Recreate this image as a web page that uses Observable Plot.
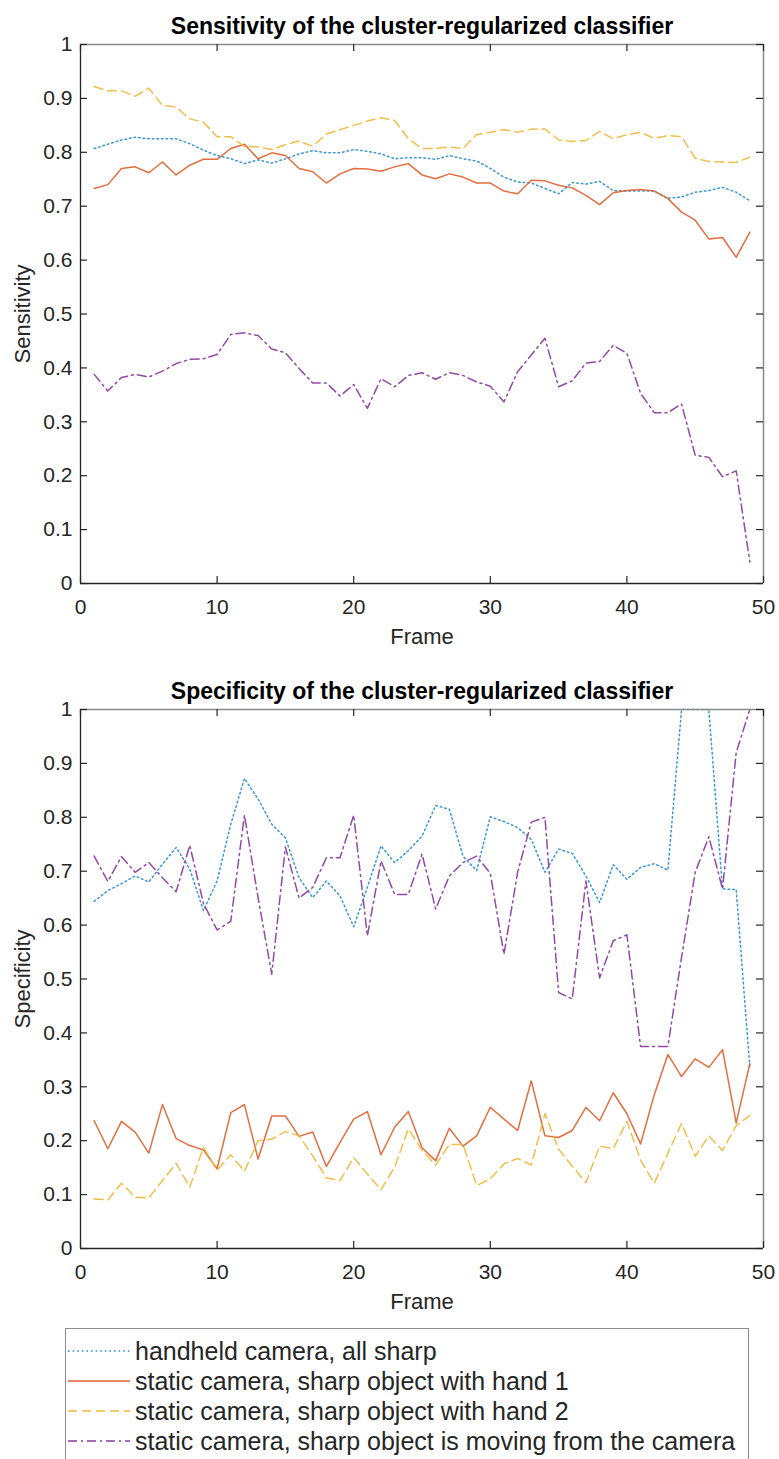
<!DOCTYPE html>
<html><head><meta charset="utf-8">
<script src="https://cdn.jsdelivr.net/npm/d3@7"></script>
<script src="https://cdn.jsdelivr.net/npm/@observablehq/plot@0.6"></script>
<style>
html,body{margin:0;padding:0;background:#fff;}
#wrap{position:relative;width:779px;height:1459px;overflow:hidden;font-family:"Liberation Sans",Arial,Helvetica,sans-serif;background:#fff;}
.panel{position:absolute;left:0;}
#legend{position:absolute;left:65px;top:1328px;width:684px;height:140px;border:1.6px solid #8c8c8c;background:#fff;box-sizing:border-box;}
.row{position:absolute;left:0;height:30px;display:flex;align-items:center;font-size:25px;color:#262626;white-space:nowrap;}
.row svg{margin-left:2px;margin-right:5px;}
</style></head><body><div id="wrap"></div>
<script>
const frames = [1,2,3,4,5,6,7,8,9,10,11,12,13,14,15,16,17,18,19,20,21,22,23,24,25,26,27,28,29,30,31,32,33,34,35,36,37,38,39,40,41,42,43,44,45,46,47,48,49];

const seriesNames = [
  "handheld camera, all sharp",
  "static camera, sharp object with hand 1",
  "static camera, sharp object with hand 2",
  "static camera, sharp object is moving from the camera"
];

const sensHandheld = [0.807,0.815,0.823,0.828,0.825,0.825,0.825,0.816,0.804,0.794,0.788,0.779,0.786,0.780,0.788,0.797,0.803,0.799,0.799,0.805,0.802,0.797,0.788,0.790,0.790,0.787,0.794,0.788,0.784,0.770,0.754,0.745,0.743,0.733,0.723,0.744,0.741,0.746,0.729,0.728,0.728,0.728,0.715,0.717,0.726,0.729,0.735,0.726,0.710];
const sensHand1 = [0.733,0.740,0.770,0.773,0.762,0.782,0.758,0.776,0.787,0.787,0.807,0.815,0.788,0.799,0.794,0.770,0.764,0.743,0.760,0.770,0.769,0.765,0.773,0.779,0.758,0.751,0.760,0.754,0.743,0.743,0.728,0.723,0.748,0.747,0.739,0.734,0.720,0.703,0.725,0.729,0.731,0.728,0.714,0.689,0.674,0.639,0.642,0.605,0.652];
const sensHand2 = [0.922,0.914,0.914,0.904,0.919,0.887,0.884,0.862,0.856,0.829,0.829,0.811,0.810,0.805,0.814,0.821,0.811,0.834,0.842,0.850,0.858,0.864,0.859,0.825,0.807,0.807,0.810,0.807,0.833,0.837,0.842,0.837,0.843,0.843,0.823,0.820,0.822,0.839,0.825,0.833,0.837,0.826,0.831,0.829,0.789,0.783,0.782,0.781,0.791];
const sensMoving = [0.388,0.357,0.382,0.388,0.383,0.394,0.408,0.416,0.417,0.425,0.462,0.465,0.460,0.435,0.428,0.399,0.372,0.372,0.348,0.369,0.325,0.380,0.365,0.386,0.391,0.379,0.391,0.386,0.374,0.366,0.337,0.393,0.424,0.455,0.365,0.376,0.409,0.412,0.442,0.427,0.353,0.317,0.317,0.333,0.238,0.234,0.198,0.209,0.040];

const specHandheld = [0.644,0.664,0.677,0.691,0.680,0.713,0.744,0.704,0.627,0.682,0.787,0.872,0.834,0.787,0.762,0.688,0.651,0.682,0.654,0.597,0.670,0.747,0.716,0.738,0.765,0.822,0.815,0.728,0.701,0.801,0.792,0.781,0.759,0.698,0.741,0.733,0.691,0.642,0.712,0.685,0.707,0.714,0.702,1.000,1.000,1.000,0.667,0.666,0.336];
const specHand1 = [0.237,0.185,0.236,0.216,0.177,0.267,0.204,0.191,0.183,0.148,0.252,0.267,0.166,0.246,0.246,0.208,0.216,0.152,0.197,0.240,0.254,0.174,0.225,0.254,0.187,0.163,0.223,0.190,0.209,0.262,0.240,0.219,0.311,0.209,0.206,0.219,0.262,0.237,0.289,0.250,0.194,0.285,0.360,0.319,0.352,0.336,0.369,0.233,0.343];
const specHand2 = [0.092,0.090,0.121,0.095,0.094,0.126,0.158,0.114,0.188,0.145,0.174,0.143,0.200,0.203,0.217,0.209,0.172,0.131,0.126,0.169,0.138,0.109,0.151,0.222,0.182,0.155,0.193,0.193,0.117,0.129,0.157,0.167,0.155,0.250,0.184,0.153,0.122,0.190,0.185,0.236,0.164,0.121,0.177,0.232,0.171,0.209,0.182,0.228,0.247];
const specMoving = [0.728,0.681,0.727,0.698,0.716,0.688,0.662,0.748,0.640,0.591,0.607,0.804,0.651,0.509,0.745,0.650,0.670,0.725,0.725,0.804,0.580,0.719,0.657,0.657,0.732,0.630,0.691,0.716,0.728,0.696,0.546,0.698,0.791,0.800,0.475,0.463,0.682,0.502,0.571,0.582,0.375,0.375,0.375,0.540,0.698,0.764,0.667,0.920,1.000];

const xTickValues = [0,10,20,30,40,50];
const xTickLabels = ["0","10","20","30","40","50"];
const yTickValues = [0,0.1,0.2,0.3,0.4,0.5,0.6,0.7,0.8,0.9,1];
const yTickLabels = ["0","0.1","0.2","0.3","0.4","0.5","0.6","0.7","0.8","0.9","1"];

const titles = ["Sensitivity of the cluster-regularized classifier","Specificity of the cluster-regularized classifier"];
const yLabels = ["Sensitivity","Specificity"];
const xLabel = "Frame";

// styles
const colors = ["#2A8DD4","#E0622F","#EFBA3C","#8A3A9E"];
const dashes = ["1.6 3", "none", "9 5", "9 4 2 4"];
const FONT = '"Liberation Sans", Arial, Helvetica, sans-serif';

const W = 779, H = 664, mL = 80, mR = 16, mT = 44, mB = 81;
const fw = W - mL - mR, fh = H - mT - mB;
const ink = "#262626";

function panel(title, yLabel, seriesList) {
  const lineMarks = seriesList.map((vals, s) =>
    Plot.line(frames.map((f, i) => ({frame: f, value: vals[i]})), {
      x: "frame", y: "value", stroke: colors[s], strokeWidth: 1.5,
      strokeDasharray: dashes[s] === "none" ? null : dashes[s], strokeOpacity: 0.92
    })
  );
  return Plot.plot({
    width: W, height: H, marginLeft: mL, marginRight: mR, marginTop: mT, marginBottom: mB,
    x: {domain: [0, 50]},
    y: {domain: [0, 1]},
    style: {fontFamily: FONT, background: "white", color: ink},
    marks: [
      ...lineMarks,
      Plot.ruleX([50], {stroke: "#8a8a8a", strokeWidth: 1.5}),
      Plot.ruleY([1], {stroke: "#8a8a8a", strokeWidth: 1.5}),
      Plot.ruleX([0], {stroke: ink, strokeWidth: 1.3}),
      Plot.ruleY([0], {stroke: ink, strokeWidth: 1.3}),
      Plot.tickY(yTickValues, {y: d => d, insetRight: fw - 7, stroke: ink, strokeWidth: 1.2}),
      Plot.tickY(yTickValues, {y: d => d, insetLeft: fw - 7, stroke: ink, strokeWidth: 1.2}),
      Plot.tickX(xTickValues, {x: d => d, insetTop: fh - 7, stroke: ink, strokeWidth: 1.2}),
      Plot.tickX(xTickValues, {x: d => d, insetBottom: fh - 7, stroke: ink, strokeWidth: 1.2}),
      Plot.axisY(yTickValues, {tickSize: 0, tickPadding: 8, fontSize: 21, fill: ink, label: null,
        tickFormat: d => yTickLabels[yTickValues.indexOf(d)]}),
      Plot.axisX(xTickValues, {tickSize: 0, tickPadding: 16, fontSize: 21, fill: ink, label: null,
        tickFormat: d => xTickLabels[xTickValues.indexOf(d)]}),
      Plot.text([title], {text: d => d, frameAnchor: "top", textAnchor: "middle", lineAnchor: "middle",
        dy: -18, fontSize: 23, fontWeight: "bold", fill: "#000"}),
      Plot.text([yLabel], {text: d => d, frameAnchor: "left", textAnchor: "middle", lineAnchor: "middle",
        dx: -58, rotate: -90, fontSize: 22, fill: ink}),
      Plot.text([xLabel], {text: d => d, frameAnchor: "bottom", textAnchor: "middle", lineAnchor: "middle",
        dy: 53, fontSize: 22, fill: ink})
    ]
  });
}

const wrap = document.getElementById("wrap");
const p1 = panel(titles[0], yLabels[0], [sensHandheld, sensHand1, sensHand2, sensMoving]);
p1.classList.add("panel"); p1.style.top = "0px";
wrap.appendChild(p1);
const p2 = panel(titles[1], yLabels[1], [specHandheld, specHand1, specHand2, specMoving]);
p2.classList.add("panel"); p2.style.top = "664.5px";
wrap.appendChild(p2);

const legend = document.createElement("div");
legend.id = "legend";
seriesNames.forEach((name, s) => {
  const row = document.createElement("div");
  row.className = "row";
  row.style.top = (7 + 30 * s) + "px";
  const svg = d3.create("svg").attr("width", 62).attr("height", 10);
  svg.append("line").attr("x1", 0).attr("x2", 62).attr("y1", 5).attr("y2", 5)
    .attr("stroke", colors[s]).attr("stroke-width", 1.5)
    .attr("stroke-dasharray", dashes[s] === "none" ? null : dashes[s]);
  row.appendChild(svg.node());
  const span = document.createElement("span");
  span.textContent = name;
  row.appendChild(span);
  legend.appendChild(row);
});
wrap.appendChild(legend);
</script></body></html>
